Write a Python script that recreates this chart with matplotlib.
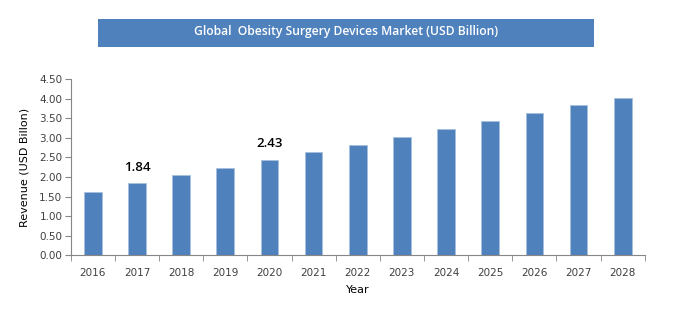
import numpy as np
import matplotlib.pyplot as plt
from matplotlib.patches import Rectangle

# data
years = ['2016', '2017', '2018', '2019', '2020', '2021', '2022',
         '2023', '2024', '2025', '2026', '2027', '2028']
revenue = [1.63, 1.84, 2.04, 2.23, 2.43, 2.63, 2.83, 3.03, 3.23, 3.43, 3.63, 3.83, 4.03]
labelled = {'2017': '1.84', '2020': '2.43'}
yticks = [0.0, 0.5, 1.0, 1.5, 2.0, 2.5, 3.0, 3.5, 4.0, 4.5]

bar_color = '#4F81BD'
axis_color = '#868686'

fig = plt.figure(figsize=(6.9, 3.27), dpi=100)
ax = fig.add_axes([0.1025, 0.219, 0.832, 0.539])

x = np.arange(len(years))
ax.bar(x, revenue, width=0.4, color=bar_color, edgecolor='#A7BFDE', linewidth=0.6)

for i, yr in enumerate(years):
    if yr in labelled:
        ax.annotate(labelled[yr], (x[i], revenue[i]), xytext=(0, 7),
                    textcoords='offset points', ha='center', va='bottom',
                    fontsize=9.5, fontfamily='Open Sans', fontweight='semibold',
                    color='black')

ax.set_xlim(-0.5, len(years) - 0.5)
ax.set_ylim(0, 4.5)
ax.set_yticks(yticks)
ax.set_yticklabels(['%.2f' % v for v in yticks])
ax.set_xticks(x)
ax.set_xticklabels(years)
ax.set_xticks(np.arange(-0.5, len(years), 1), minor=True)

ax.tick_params(axis='y', direction='out', length=4, color=axis_color,
               labelsize=7.5, labelcolor='#404040', pad=2)
ax.tick_params(axis='x', which='major', length=0, labelsize=7.5,
               labelcolor='#404040', pad=9)
ax.tick_params(axis='x', which='minor', direction='out', length=4, color=axis_color)

for s in ['top', 'right']:
    ax.spines[s].set_visible(False)
for s in ['left', 'bottom']:
    ax.spines[s].set_color(axis_color)
    ax.spines[s].set_linewidth(0.8)

ax.set_ylabel('Revenue (USD Billon)', fontsize=8, fontfamily='DejaVu Sans', labelpad=7)
ax.set_xlabel('Year', fontsize=8, fontfamily='DejaVu Sans', labelpad=5)

# title banner
fig.patches.append(Rectangle((98 / 690, 1 - 46.7 / 327), 496 / 690, 27.7 / 327,
                             transform=fig.transFigure, facecolor=bar_color,
                             edgecolor='none'))
fig.text(346 / 690, 1 - 31 / 327, 'Global  Obesity Surgery Devices Market (USD Billion)',
         ha='center', va='center', color='white', fontsize=8.7,
         fontfamily='Open Sans', fontweight='semibold')

fig.savefig('out.png', dpi=100)
